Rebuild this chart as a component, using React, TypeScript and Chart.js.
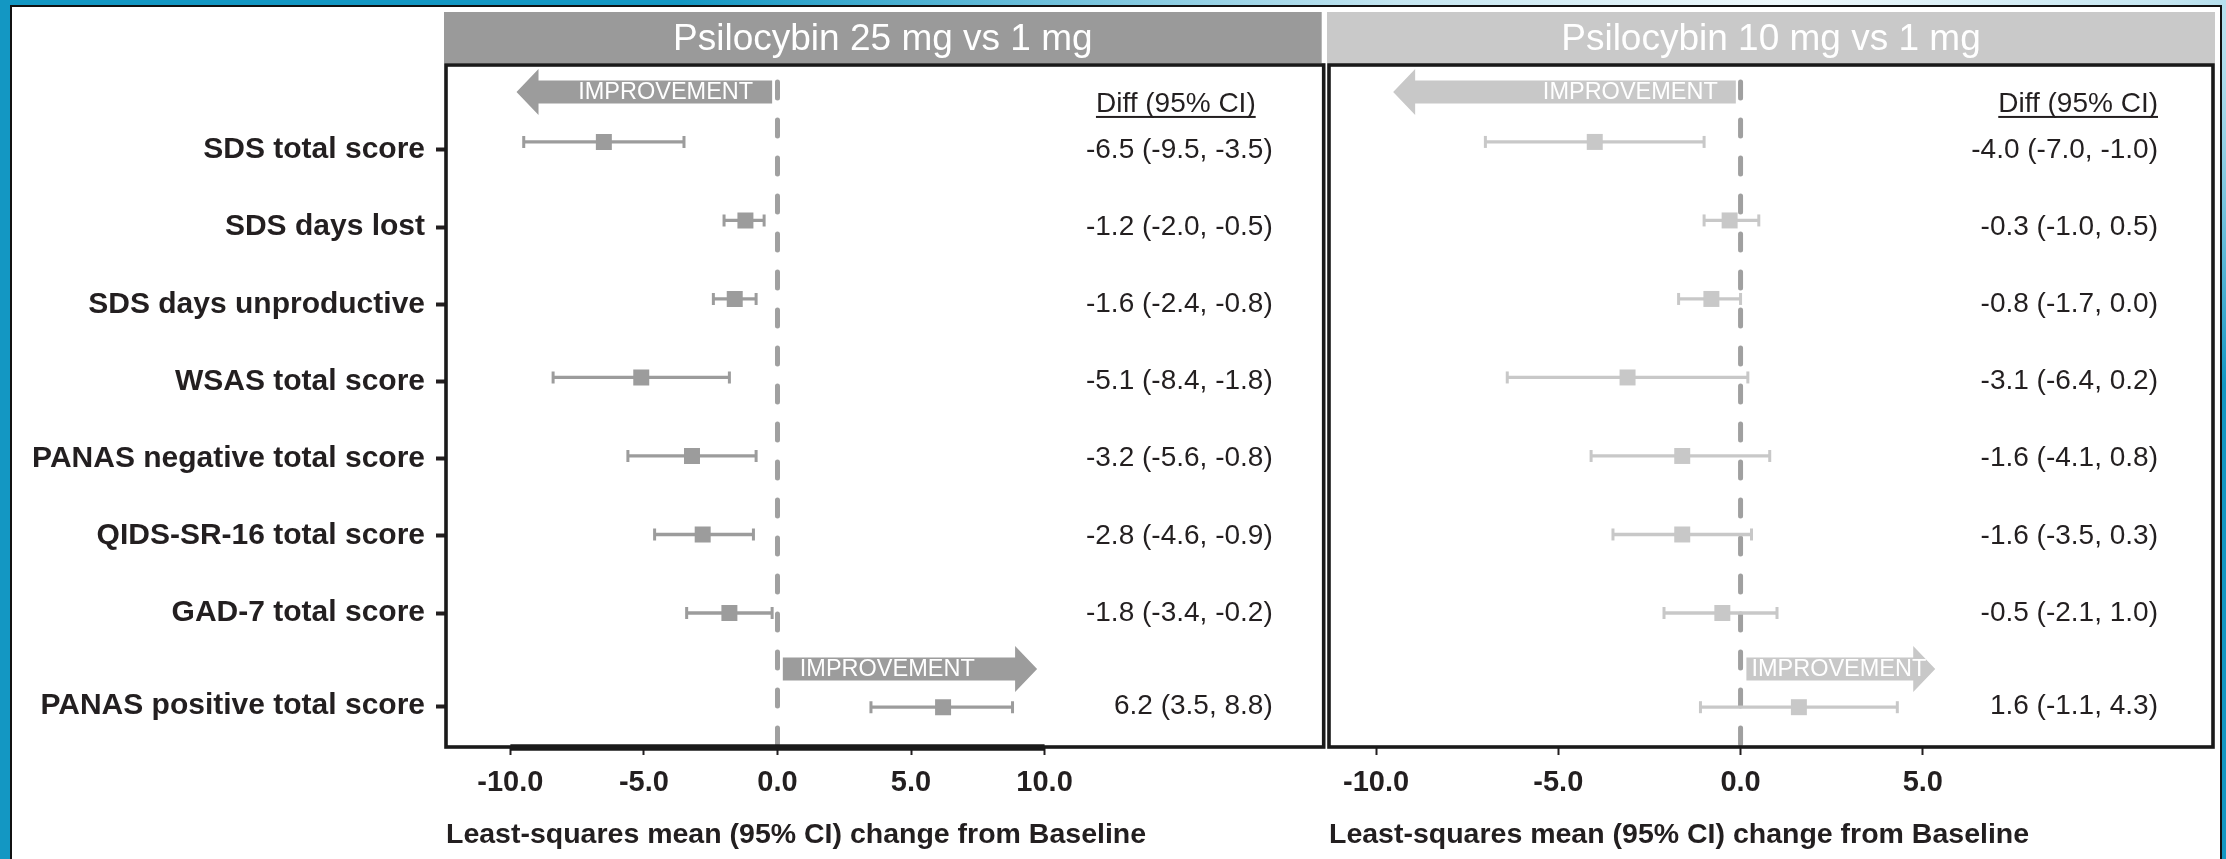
import React, { useEffect, useRef } from 'react';
import { Chart, registerables } from 'chart.js';

Chart.register(...registerables);

// ---------------- data ----------------
const CATEGORIES = [
  'SDS total score',
  'SDS days lost',
  'SDS days unproductive',
  'WSAS total score',
  'PANAS negative total score',
  'QIDS-SR-16 total score',
  'GAD-7 total score',
  'PANAS positive total score',
];

const DIFF_25 = [-6.5, -1.2, -1.6, -5.1, -3.2, -2.8, -1.8, 6.2];
const LO_25 = [-9.5, -2.0, -2.4, -8.4, -5.6, -4.6, -3.4, 3.5];
const HI_25 = [-3.5, -0.5, -0.8, -1.8, -0.8, -0.9, -0.2, 8.8];

const DIFF_10 = [-4.0, -0.3, -0.8, -3.1, -1.6, -1.6, -0.5, 1.6];
const LO_10 = [-7.0, -1.0, -1.7, -6.4, -4.1, -3.5, -2.1, -1.1];
const HI_10 = [-1.0, 0.5, 0.0, 0.2, 0.8, 0.3, 1.0, 4.3];

const TICKS_25 = [-10, -5, 0, 5, 10];
const TICKS_10 = [-10, -5, 0, 5];

const PANEL_TITLE_25 = 'Psilocybin 25 mg vs 1 mg';
const PANEL_TITLE_10 = 'Psilocybin 10 mg vs 1 mg';
const AXIS_TITLE = 'Least-squares mean (95% CI) change from Baseline';
const DIFF_HEADER = 'Diff (95% CI)';
const IMPROVEMENT = 'IMPROVEMENT';

// ---------------- style / layout ----------------
const FONT = '"Liberation Sans", Arial, Helvetica, sans-serif';
const TEXT_DARK = '#231f20';
const MARK_25 = '#9c9c9c';
const MARK_10 = '#c8c8c8';
const HEADER_25 = '#9a9a9a';
const HEADER_10 = '#c9c9c9';
const ZERO_LINE = '#a0a0a0';
const FRAME = '#1a1a1a';

const W = 2226;
const H = 859;
const PLOT_TOP = 65;
const X_AXIS_H = 112;
const Y_MIN = -0.98;
const Y_MAX = 7.707;
const ROW_PX = 78.5;
const LAST_ROW_GAP = 0.2;

const rowPos = (i: number) => (i === CATEGORIES.length - 1 ? i + LAST_ROW_GAP : i);
const labelPos = (i: number) => rowPos(i) + (8 - 1.3 * i) / ROW_PX;
const fmt = (v: number) => v.toFixed(1);

type ArrowSpec = { from: number; tip: number; row: number; inset: number };

type PanelSpec = {
  diff: number[];
  lo: number[];
  hi: number[];
  ticks: number[];
  xMin: number;
  xMax: number;
  color: string;
  headerColor: string;
  title: string;
  hdrL: number;
  hdrR: number;
  diffInset: number;
  diffHeaderInset: number;
  arrows: ArrowSpec[];
  thickAxis: boolean;
  showLabels: boolean;
  yAxisW: number;
  padLeft: number;
  padRight: number;
};

const HEAD_LEN = 22;
const HEAD_H = 23;
const BODY_H = 11.5;

function makeDecor(p: PanelSpec) {
  return {
    id: 'decor',
    beforeDatasetsDraw(chart: any) {
      const ctx = chart.ctx;
      const xs = chart.scales.x;
      const ys = chart.scales.y;
      ctx.save();
      for (const a of p.arrows) {
        const x0 = xs.getPixelForValue(a.from);
        const xt = xs.getPixelForValue(a.tip);
        const y = ys.getPixelForValue(a.row);
        const dir = Math.sign(xt - x0);
        const hb = xt - dir * HEAD_LEN;
        ctx.fillStyle = p.color;
        ctx.beginPath();
        ctx.moveTo(x0, y - BODY_H);
        ctx.lineTo(hb, y - BODY_H);
        ctx.lineTo(hb, y - HEAD_H);
        ctx.lineTo(xt, y);
        ctx.lineTo(hb, y + HEAD_H);
        ctx.lineTo(hb, y + BODY_H);
        ctx.lineTo(x0, y + BODY_H);
        ctx.closePath();
        ctx.fill();
        ctx.fillStyle = '#ffffff';
        ctx.font = `23.5px ${FONT}`;
        ctx.textBaseline = 'middle';
        if (dir < 0) {
          ctx.textAlign = 'right';
          ctx.fillText(IMPROVEMENT, x0 - a.inset, y + 1);
        } else {
          ctx.textAlign = 'left';
          ctx.fillText(IMPROVEMENT, x0 + a.inset, y + 1);
        }
      }
      ctx.restore();
    },
    afterDatasetsDraw(chart: any) {
      const ctx = chart.ctx;
      const ca = chart.chartArea;
      const xs = chart.scales.x;
      ctx.save();
      ctx.strokeStyle = FRAME;
      ctx.lineWidth = 3.6;
      ctx.strokeRect(ca.left, ca.top, ca.right - ca.left, ca.bottom - ca.top);
      if (p.thickAxis) {
        ctx.lineWidth = 6.5;
        ctx.lineCap = 'butt';
        ctx.beginPath();
        ctx.moveTo(xs.getPixelForValue(p.ticks[0]), ca.bottom + 0.5);
        ctx.lineTo(xs.getPixelForValue(p.ticks[p.ticks.length - 1]), ca.bottom + 0.5);
        ctx.stroke();
      }
      ctx.restore();
    },
    afterDraw(chart: any) {
      const ctx = chart.ctx;
      const ca = chart.chartArea;
      const ys = chart.scales.y;
      ctx.save();
      // header bar
      const hx0 = ca.left + p.hdrL;
      const hx1 = ca.right + p.hdrR;
      ctx.fillStyle = p.headerColor;
      ctx.fillRect(hx0, 12, hx1 - hx0, PLOT_TOP - 2 - 12);
      ctx.fillStyle = '#ffffff';
      ctx.font = `37px ${FONT}`;
      ctx.textAlign = 'center';
      ctx.textBaseline = 'middle';
      ctx.fillText(p.title, (hx0 + hx1) / 2, 40);

      // diff column
      ctx.fillStyle = TEXT_DARK;
      ctx.font = `28px ${FONT}`;
      ctx.textAlign = 'right';
      const hy = ys.getPixelForValue(-0.484);
      const hxr = ca.right - p.diffHeaderInset;
      ctx.fillText(DIFF_HEADER, hxr, hy);
      const w = ctx.measureText(DIFF_HEADER).width;
      ctx.fillRect(hxr - w, hy + 12, w, 2);
      const vx = ca.right - p.diffInset;
      p.diff.forEach((d, i) => {
        const txt = `${fmt(d)} (${fmt(p.lo[i])}, ${fmt(p.hi[i])})`;
        ctx.fillText(txt, vx, ys.getPixelForValue(labelPos(i)));
      });
      ctx.restore();
    },
  };
}

function buildConfig(p: PanelSpec): any {
  const datasets: any[] = [];
  datasets.push({
    type: 'scatter',
    label: 'estimate',
    data: p.diff.map((d, i) => ({ x: d, y: rowPos(i) })),
    pointStyle: 'rect',
    pointRadius: 11.3,
    pointHoverRadius: 11.3,
    backgroundColor: p.color,
    borderWidth: 0,
    order: 0,
  });
  p.lo.forEach((lo, i) => {
    datasets.push({
      type: 'line',
      label: 'ci' + i,
      data: [
        { x: lo, y: rowPos(i) },
        { x: p.hi[i], y: rowPos(i) },
      ],
      showLine: true,
      borderColor: p.color,
      borderWidth: 3.3,
      pointStyle: 'line',
      rotation: 90,
      pointRadius: 6,
      pointHoverRadius: 6,
      pointBorderColor: p.color,
      pointBorderWidth: 3,
      order: 1,
    });
  });
  datasets.push({
    type: 'line',
    label: 'zero',
    data: [
      { x: 0, y: Y_MIN },
      { x: 0, y: Y_MAX },
    ],
    showLine: true,
    borderColor: ZERO_LINE,
    borderWidth: 5,
    borderDash: [16, 22],
    borderDashOffset: 21,
    borderCapStyle: 'round',
    pointRadius: 0,
    pointHoverRadius: 0,
    order: 2,
  });

  return {
    type: 'scatter',
    data: { datasets },
    plugins: [makeDecor(p)],
    options: {
      responsive: false,
      animation: false,
      devicePixelRatio: 1,
      events: [],
      layout: { padding: { left: p.padLeft, right: p.padRight, top: PLOT_TOP, bottom: 0 } },
      plugins: { legend: { display: false }, tooltip: { enabled: false }, title: { display: false } },
      scales: {
        x: {
          type: 'linear',
          position: 'bottom',
          min: p.xMin,
          max: p.xMax,
          afterBuildTicks: (s: any) => {
            s.ticks = p.ticks.map((v) => ({ value: v }));
          },
          afterFit: (s: any) => {
            s.height = X_AXIS_H;
          },
          border: { display: false },
          grid: { drawOnChartArea: false, drawTicks: true, tickLength: 8, tickWidth: 2, tickColor: TEXT_DARK },
          ticks: {
            autoSkip: false,
            maxRotation: 0,
            minRotation: 0,
            padding: 11,
            color: TEXT_DARK,
            font: { family: FONT, size: 29, weight: 'bold' },
            callback: (v: any) => Number(v).toFixed(1),
          },
          title: {
            display: true,
            text: AXIS_TITLE,
            align: 'start',
            color: TEXT_DARK,
            font: { family: FONT, size: 28.5, weight: 'bold' },
            padding: { top: 0, bottom: 7 },
          },
        },
        y: {
          type: 'linear',
          reverse: true,
          min: Y_MIN,
          max: Y_MAX,
          display: p.showLabels,
          afterBuildTicks: (s: any) => {
            s.ticks = CATEGORIES.map((_, i) => ({ value: labelPos(i) }));
          },
          afterFit: (s: any) => {
            s.width = p.yAxisW;
          },
          border: { display: false },
          grid: { drawOnChartArea: false, drawTicks: true, tickLength: 10, tickWidth: 4, tickColor: TEXT_DARK },
          ticks: {
            autoSkip: false,
            padding: 11,
            color: TEXT_DARK,
            font: { family: FONT, size: 30, weight: 'bold' },
            callback: (_v: any, idx: number) => CATEGORIES[idx],
          },
        },
      },
    },
  };
}

const LEFT_W = 1335;
const RIGHT_X = 1300;
const RIGHT_W = W - RIGHT_X;

const PANEL_25: PanelSpec = {
  diff: DIFF_25,
  lo: LO_25,
  hi: HI_25,
  ticks: TICKS_25,
  xMin: -12.41,
  xMax: 20.45,
  color: MARK_25,
  headerColor: HEADER_25,
  title: PANEL_TITLE_25,
  hdrL: -2,
  hdrR: -2,
  diffInset: 51,
  diffHeaderInset: 68,
  arrows: [
    { from: -0.2, tip: -9.77, row: -0.637, inset: 19 },
    { from: 0.2, tip: 9.72, row: 6.713, inset: 17 },
  ],
  thickAxis: true,
  showLabels: true,
  yAxisW: 446,
  padLeft: 0,
  padRight: LEFT_W - 1329,
};

const PANEL_10: PanelSpec = {
  diff: DIFF_10,
  lo: LO_10,
  hi: HI_10,
  ticks: TICKS_10,
  xMin: -11.29,
  xMax: 12.96,
  color: MARK_10,
  headerColor: HEADER_10,
  title: PANEL_TITLE_10,
  hdrL: -2,
  hdrR: 2,
  diffInset: 55,
  diffHeaderInset: 55,
  arrows: [
    { from: -0.13, tip: -9.53, row: -0.637, inset: 18 },
    { from: 0.16, tip: 5.34, row: 6.713, inset: 5 },
  ],
  thickAxis: false,
  showLabels: false,
  yAxisW: 0,
  padLeft: 1329 - RIGHT_X,
  padRight: W - 2213,
};

export default function App() {
  const leftRef = useRef<HTMLCanvasElement>(null);
  const rightRef = useRef<HTMLCanvasElement>(null);

  useEffect(() => {
    const charts: Chart[] = [];
    if (leftRef.current) charts.push(new Chart(leftRef.current, buildConfig(PANEL_25)));
    if (rightRef.current) charts.push(new Chart(rightRef.current, buildConfig(PANEL_10)));
    return () => charts.forEach((c) => c.destroy());
  }, []);

  return (
    <div
      style={{
        position: 'relative',
        width: W,
        height: H,
        overflow: 'hidden',
        background:
          'radial-gradient(ellipse 1100px 420px at 80% 0%, #eef8fb 0%, #c4e6f1 35%, rgba(20,152,196,0) 100%), #1397c3',
      }}
    >
      <style>{'body{margin:0}'}</style>
      <div
        style={{
          position: 'absolute',
          left: 10,
          top: 5,
          width: 2212,
          height: 900,
          background: '#ffffff',
          border: '2px solid #111',
          boxSizing: 'border-box',
        }}
      />
      <canvas ref={leftRef} width={LEFT_W} height={H} style={{ position: 'absolute', left: 0, top: 0 }} />
      <canvas ref={rightRef} width={RIGHT_W} height={H} style={{ position: 'absolute', left: RIGHT_X, top: 0 }} />
    </div>
  );
}
